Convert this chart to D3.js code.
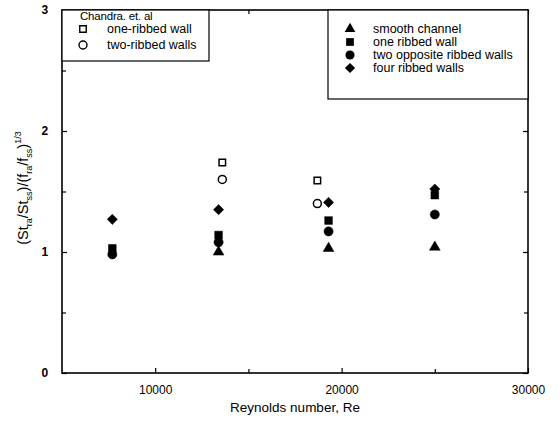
<!DOCTYPE html>
<html>
<head>
<meta charset="utf-8">
<script src="https://cdn.jsdelivr.net/npm/d3@7"></script>
<style>
  body { margin:0; background:#fff; }
  text { font-family: "Liberation Sans", Arial, sans-serif; fill:#000; }
</style>
</head>
<body>
<div id="chart"></div>
<script>
// values
const reSmooth = [13400, 19300, 25000];
const smooth = [1.00, 1.03, 1.04];

const reRib = [7700, 13400, 19300, 25000];
const oneRib = [1.03, 1.14, 1.26, 1.47];
const twoOpp = [0.98, 1.08, 1.17, 1.31];
const fourRib = [1.27, 1.35, 1.41, 1.52];

const reChandra = [13600, 18700];
const chandraOne = [1.74, 1.59];
const chandraTwo = [1.60, 1.40];

const xTicks = [10000, 20000, 30000];
const xMinor = [15000, 25000];
const yTicks = [0, 1, 2, 3];
const yMinor = [0.5, 1.5, 2.5];

const W = 560, H = 428;
const margin = {top:10, right:32, bottom:55, left:62};
const width = W - margin.left - margin.right,
      height = H - margin.top - margin.bottom;

const svg = d3.select("#chart").append("svg")
    .attr("width", W).attr("height", H);
const g = svg.append("g")
    .attr("transform", "translate(" + margin.left + "," + margin.top + ")");

const x = d3.scaleLinear().domain([5000, 30000]).range([0, width]);
const y = d3.scaleLinear().domain([0, 3]).range([height, 0]);

// frame
g.append("rect").attr("width", width).attr("height", height)
  .attr("fill", "none").attr("stroke", "#000").attr("stroke-width", 1.6);

// ticks on all four sides, pointing inward
function tickSide(axisFn, scale, vals, size, transform, labels) {
  const a = g.append("g").attr("transform", transform)
    .call(axisFn(scale).tickValues(vals).tickSizeInner(size).tickSizeOuter(0)
      .tickFormat(labels ? d3.format("d") : ""));
  a.select(".domain").remove();
  a.selectAll("line").attr("stroke", "#000").attr("stroke-width", 1.2);
  return a;
}
const bx = tickSide(d3.axisBottom, x, xTicks, -5, "translate(0," + height + ")", true);
tickSide(d3.axisBottom, x, xMinor, -4, "translate(0," + height + ")", false);
tickSide(d3.axisTop, x, xTicks, -5, "", false);
tickSide(d3.axisTop, x, xMinor, -4, "", false);
const ly = tickSide(d3.axisLeft, y, yTicks, -5, "", true);
tickSide(d3.axisLeft, y, yMinor, -4, "", false);
tickSide(d3.axisRight, y, yTicks, -5, "translate(" + width + ",0)", false);
tickSide(d3.axisRight, y, yMinor, -4, "translate(" + width + ",0)", false);

bx.selectAll("text").attr("font-size", 12).attr("dy", "1.5em")
  .style("font-family", "Liberation Sans, Arial, sans-serif");
ly.selectAll("text").attr("font-size", 12).attr("dx", "-0.9em").attr("font-weight", "bold")
  .style("font-family", "Liberation Sans, Arial, sans-serif");

// axis titles
g.append("text").attr("x", width / 2).attr("y", height + 39)
  .attr("text-anchor", "middle").attr("font-size", 13.5)
  .text("Reynolds number, Re");

const yl = g.append("text")
  .attr("transform", "translate(" + (-34) + "," + 178 + ") rotate(-90)")
  .attr("text-anchor", "middle").attr("font-size", 14.5);
yl.append("tspan").text("(St");
yl.append("tspan").attr("font-size", 9).attr("dy", 4).text("ra");
yl.append("tspan").attr("dy", -4).text("/St");
yl.append("tspan").attr("font-size", 9).attr("dy", 4).text("ss");
yl.append("tspan").attr("dy", -4).text(")/(f");
yl.append("tspan").attr("font-size", 9).attr("dy", 4).text("ra");
yl.append("tspan").attr("dy", -4).text("/f");
yl.append("tspan").attr("font-size", 9).attr("dy", 4).text("ss");
yl.append("tspan").attr("dy", -4).text(")");
yl.append("tspan").attr("font-size", 9).attr("dy", -7).text("1/3");

// markers
const shapes = {
  tri: d3.symbol().type(d3.symbolTriangle).size(50),
  sq: d3.symbol().type(d3.symbolSquare).size(60),
  circ: d3.symbol().type(d3.symbolCircle).size(66),
  dia: d3.symbol().type(d3.symbolSquare).size(52),
  osq: d3.symbol().type(d3.symbolSquare).size(42),
  ocirc: d3.symbol().type(d3.symbolCircle).size(50)
};

function series(xs, ys, kind, open) {
  g.append("g").selectAll("path")
    .data(ys.map(function (v, i) { return [xs[i], v]; }))
    .enter().append("path")
    .attr("d", shapes[kind])
    .attr("transform", function (d) {
      return "translate(" + x(d[0]) + "," + y(d[1]) + ")" + (kind === "dia" ? " rotate(45)" : "");
    })
    .attr("fill", open ? "#fff" : "#000")
    .attr("stroke", "#000")
    .attr("stroke-width", open ? 1.5 : 0.5);
}
series(reChandra, chandraOne, "osq", true);
series(reChandra, chandraTwo, "ocirc", true);
series(reSmooth, smooth, "tri", false);
series(reRib, oneRib, "sq", false);
series(reRib, twoOpp, "circ", false);
series(reRib, fourRib, "dia", false);

// left legend (Chandra et al)
const lg = g.append("g");
lg.append("rect").attr("x", 0).attr("y", 0).attr("width", 147).attr("height", 51)
  .attr("fill", "#fff").attr("stroke", "#000").attr("stroke-width", 1.2);
lg.append("text").attr("x", 18).attr("y", 10).attr("font-size", 11.5)
  .attr("letter-spacing", "-0.2").text("Chandra. et. al");
const leftItems = [["osq", "one-ribbed wall", true], ["ocirc", "two-ribbed walls", true]];
leftItems.forEach(function (d, i) {
  const yy = 19 + i * 16;
  lg.append("path").attr("d", shapes[d[0]])
    .attr("transform", "translate(21," + yy + ")")
    .attr("fill", "#fff").attr("stroke", "#000").attr("stroke-width", 1.4);
  lg.append("text").attr("x", 45).attr("y", yy + 4).attr("font-size", 12.5).text(d[1]);
});

// right legend
const rg = g.append("g").attr("transform", "translate(" + (328 - margin.left) + ",0)");
rg.append("rect").attr("x", 0).attr("y", 0).attr("width", 200).attr("height", 89)
  .attr("fill", "#fff").attr("stroke", "#000").attr("stroke-width", 1.2);
const rightItems = [["tri", "smooth channel"], ["sq", "one ribbed wall"],
                    ["circ", "two opposite ribbed walls"], ["dia", "four ribbed walls"]];
rightItems.forEach(function (d, i) {
  const yy = 19 + i * 13;
  rg.append("path").attr("d", shapes[d[0]])
    .attr("transform", "translate(22," + yy + ")" + (d[0] === "dia" ? " rotate(45)" : ""))
    .attr("fill", "#000");
  rg.append("text").attr("x", 45).attr("y", yy + 4).attr("font-size", 12.5).text(d[1]);
});
</script>
</body>
</html>
